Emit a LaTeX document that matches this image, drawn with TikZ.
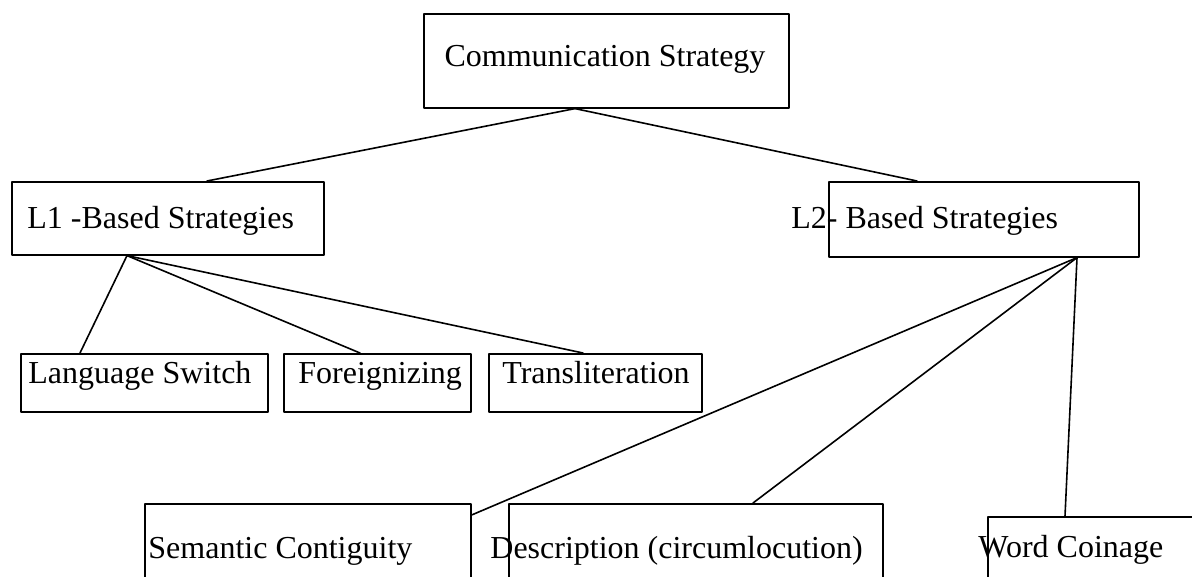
\documentclass[tikz,border=0pt]{standalone}
\usepackage{fontspec}
\setmainfont{Liberation Serif}
\usepackage{tikz}
\tikzset{>=latex}
\usetikzlibrary{positioning}

\begin{document}
\begin{tikzpicture}[x=0.5pt, y=-0.5pt,
                line cap=round, line join=round,
                box/.style 2 args={draw, line width=0.8pt, inner sep=0pt, anchor=north west,
                    minimum width=#1*0.5pt, minimum height=#2*0.5pt},
                label/.style={anchor=base west, inner sep=0pt},
                link/.style={line width=0.8pt}]
                \fontsize{16}{19}\selectfont
                \useasboundingbox (0,0) rectangle (1192,577);
                \clip (0,0) rectangle (1192,577);

                % boxes
                \node[box={365}{94}] (comm) at (423,13) {};
                \node[box={312}{73}] (lone) at (11,181) {};
                \node[box={310}{75}] (ltwo) at (828,181) {};
                \node[box={247}{58}] (switch) at (20,353) {};
                \node[box={187}{58}] (foreign) at (283,353) {};
                \node[box={213}{58}] (translit) at (488,353) {};
                \node[box={326}{100}] (semantic) at (144,503) {};
                \node[box={374}{100}] (descr) at (508,503) {};
                \node[box={260}{100}] (coinage) at (987,516) {};

                % texts (not centred in their boxes)
                \node[anchor=base, inner sep=0pt] (commtext) at (605,67) {Communication Strategy};
                \node[label] (lonetext) at (27,228) {L1 -Based Strategies};
                \node[label] (ltwotext) at (791,228) {L2- Based Strategies};
                \node[label] (switchtext) at (28,383) {Language Switch};
                \node[label] (foreigntext) at (298,383) {Foreignizing};
                \node[label] (translittext) at (502,383) {Transliteration};
                \node[label] (semantictext) at (148,558) {Semantic Contiguity};
                \node[label] (descrtext) at (490,558) {Description (circumlocution)};
                \node[label] (coinagetext) at (978,557) {Word Coinage};

                % connectors
                \draw[link] ([xshift=76pt]comm.south west) -- ([xshift=98pt]lone.north west);
                \draw[link] ([xshift=76pt]comm.south west) -- ([xshift=44.5pt]ltwo.north west);
                \foreach \dest/\off in {switch/30pt, foreign/38.5pt, translit/47.5pt}{
                    \draw[link] ([xshift=58pt]lone.south west) -- ([xshift=\off]\dest.north west);
                }
                \draw[link] ([xshift=124.5pt]ltwo.south west) -- ([yshift=-6pt]semantic.north east);
                \draw[link] ([xshift=124.5pt]ltwo.south west) -- ([xshift=122.5pt]descr.north west);
                \draw[link] ([xshift=124.5pt]ltwo.south west) -- ([xshift=39pt]coinage.north west);

\end{tikzpicture}
\end{document}
